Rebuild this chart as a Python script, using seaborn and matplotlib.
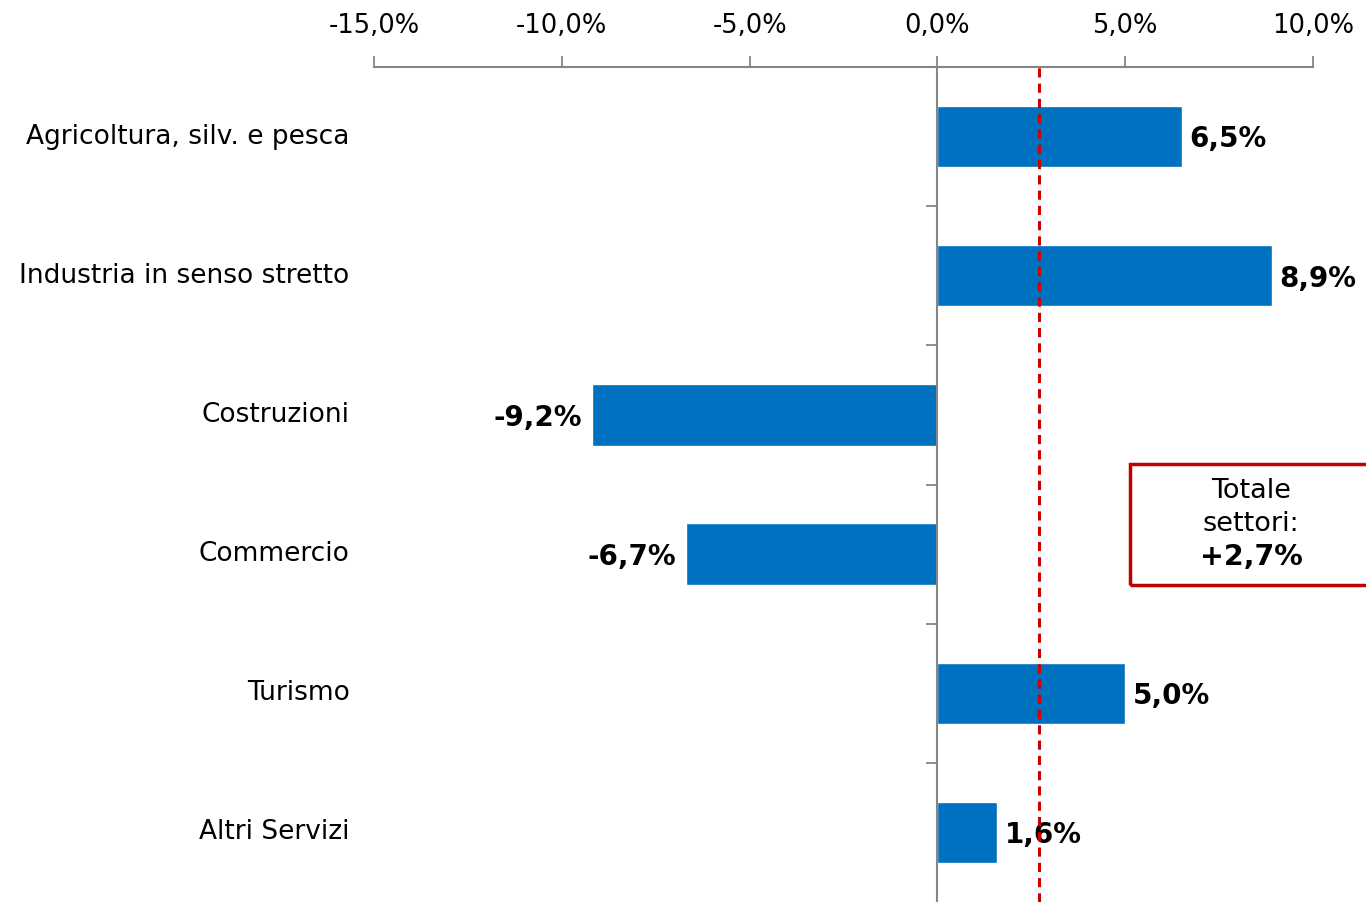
import matplotlib.pyplot as plt
import matplotlib.transforms as mtransforms
from matplotlib.ticker import FuncFormatter, FixedLocator
import seaborn as sns
import pandas as pd

sns.set_theme(style="white")
plt.rcParams['font.family'] = ['DejaVu Sans']
plt.rcParams['text.color'] = 'black'
plt.rcParams['xtick.color'] = 'black'

# Data
settori = ["Agricoltura, silv. e pesca", "Industria in senso stretto", "Costruzioni",
           "Commercio", "Turismo", "Altri Servizi"]
variazione = [6.5, 8.9, -9.2, -6.7, 5.0, 1.6]
totale = 2.7

df = pd.DataFrame({'settore': settori, 'var': variazione})

fig = plt.figure(figsize=(13.66, 9.02), dpi=100)
ax = fig.add_axes([374 / 1366, 0.0, (1313 - 374) / 1366, 1 - 67 / 902])

sns.barplot(data=df, x='var', y='settore', orient='h', color='#0070C0',
            width=0.44, saturation=1, ax=ax)

ax.set_xlim(-15, 10)
ax.set_ylim(len(settori) - 0.5, -0.5)

# x axis on top
ax.xaxis.tick_top()
ax.set_xticks(range(-15, 11, 5))
ax.xaxis.set_major_formatter(FuncFormatter(lambda v, p: f"{v:.1f}%".replace('.', ',')))
ax.tick_params(axis='x', direction='out', length=8, width=1.3, color='#868686',
               labelcolor='black', labelsize=18.5, pad=12, top=True, bottom=False)
ax.set_xlabel('')
ax.set_ylabel('')

for s in ['right', 'bottom']:
    ax.spines[s].set_visible(False)
ax.spines['top'].set_color('#868686')
ax.spines['top'].set_linewidth(1.5)
ax.spines['left'].set_position(('data', 0))
ax.spines['left'].set_color('#868686')
ax.spines['left'].set_linewidth(1.5)

# y ticks at category boundaries on the zero line, labels placed on the left
ax.yaxis.set_major_locator(FixedLocator([i + 0.5 for i in range(len(settori) - 1)]))
ax.set_yticklabels([])
ax.tick_params(axis='y', direction='out', length=8, width=1.3, color='#868686', left=True)

trans = mtransforms.blended_transform_factory(ax.transAxes, ax.transData)
for i, name in enumerate(settori):
    ax.text(-0.026, i, name, transform=trans, ha='right', va='center', fontsize=19,
            color='black')

# value labels
for i, v in enumerate(variazione):
    lab = f"{v:.1f}%".replace('.', ',')
    if v >= 0:
        ax.text(v + 0.2, i + 0.02, lab, ha='left', va='center', fontsize=20,
                fontweight='bold', color='black')
    else:
        ax.text(v - 0.25, i + 0.02, lab, ha='right', va='center', fontsize=20,
                fontweight='bold', color='black')

# total line
ax.axvline(totale, color='#CC0000', linestyle=(0, (3, 2)), linewidth=2.2, zorder=5)

# total box
fig.text(1251 / 1366, 1 - 491 / 902, "Totale", ha='center', va='center', fontsize=19.5)
fig.text(1251 / 1366, 1 - 524 / 902, "settori:", ha='center', va='center', fontsize=19.5)
fig.text(1251 / 1366, 1 - 557 / 902, "+2,7%", ha='center', va='center',
         fontsize=20.5, fontweight='bold')
box = plt.Rectangle((1130 / 1366, 1 - 585 / 902), 260 / 1366, 121 / 902,
                    transform=fig.transFigure, fill=False, edgecolor='#C00000',
                    linewidth=2.5, clip_on=False)
fig.patches.append(box)

fig.savefig('out.png', dpi=100)
